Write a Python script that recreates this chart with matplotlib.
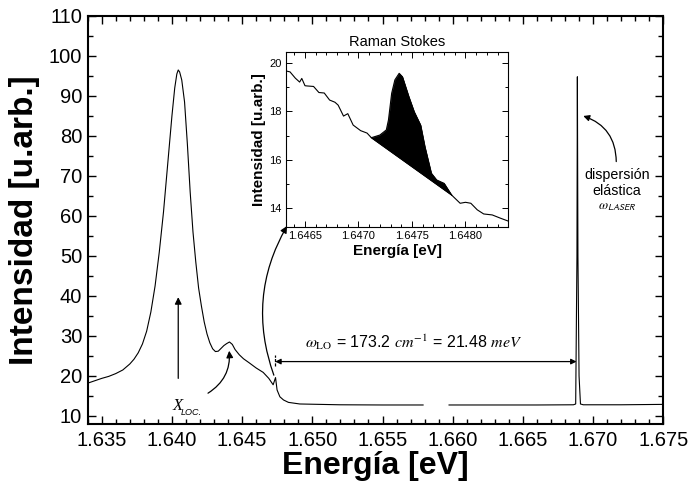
import numpy as np
import matplotlib
matplotlib.use("Agg")
import matplotlib.pyplot as plt
from matplotlib.ticker import MultipleLocator, FormatStrFormatter

plt.rcParams['font.family'] = ['Liberation Sans', 'DejaVu Sans']
plt.rcParams['mathtext.fontset'] = 'stix'

# ---------------- data ----------------
main_e = [1.6340, 1.6345, 1.6350, 1.6355, 1.6360, 1.6365, 1.6370, 1.6373,
          1.6376, 1.6379, 1.6382, 1.6385, 1.6388, 1.6391, 1.6394, 1.6397,
          1.6400, 1.6402, 1.64035, 1.64045, 1.64055, 1.6407, 1.6409, 1.6411,
          1.6413, 1.6415, 1.6417, 1.6419, 1.6421, 1.6423, 1.6425, 1.6427,
          1.6429, 1.6431, 1.6433, 1.6435, 1.6437, 1.6439, 1.6441, 1.6443,
          1.6445, 1.6448, 1.6451, 1.6455, 1.6460, 1.6465, 1.6469, 1.64721,
          1.64738, 1.64749, 1.64769, 1.64795, 1.64830, 1.64911, 1.65196, 1.6550,
          1.65789]
main_i = [18.2, 18.8, 19.4, 19.9, 20.6, 21.5, 23.0, 24.2,
          25.8, 28.0, 31.2, 36.0, 42.5, 51.0, 61.0, 73.0,
          85.0, 92.0, 95.5, 96.5, 96.0, 94.0, 88.5, 78.0,
          66.0, 56.0, 48.5, 42.0, 37.5, 33.5, 30.5, 28.3,
          26.8, 26.1, 26.2, 26.9, 27.6, 28.1, 28.5, 27.9,
          26.6, 25.3, 24.3, 23.3, 22.0, 20.9, 19.4, 17.8,
          19.6, 16.5, 14.8, 14.0, 13.4, 13.0, 12.8, 12.75,
          12.75]
laser_e = [1.65974, 1.6630, 1.6660, 1.6686, 1.66876, 1.66885, 1.66888, 1.66892,
           1.66900, 1.66910, 1.6693, 1.6720, 1.6750]
laser_i = [12.75, 12.75, 12.75, 12.8, 13.0, 50.0, 94.8, 50.0,
           20.0, 13.0, 12.8, 12.8, 12.9]

inset_e = [1.64632, 1.64636, 1.64641, 1.64645, 1.64647, 1.64650, 1.64652, 1.64658,
           1.64663, 1.64668, 1.64673, 1.64678, 1.64681, 1.64686, 1.64690, 1.64695,
           1.64702, 1.64708, 1.64712, 1.64720, 1.64726, 1.64728, 1.64731, 1.64734,
           1.64738, 1.64741, 1.64747, 1.64752, 1.64758, 1.64762, 1.64768, 1.64773,
           1.64780, 1.64787, 1.64795, 1.64800, 1.64805, 1.64811, 1.64817, 1.64825,
           1.64833, 1.64841]
inset_i = [19.66, 19.62, 19.36, 19.2, 19.35, 19.05, 19.04, 19.02,
           18.77, 18.75, 18.46, 18.37, 18.25, 17.8, 17.9, 17.43,
           17.2, 17.1, 16.91, 17.02, 17.23, 17.64, 18.74, 19.29,
           19.56, 19.42, 18.6, 17.98, 17.43, 16.54, 15.45, 15.17,
           15.03, 14.55, 14.21, 14.25, 14.21, 13.94, 13.77, 13.73,
           13.59, 13.46]
fill_base_e = [1.64712, 1.64787]
fill_base_i = [16.91, 14.55]

main_xticks = [1.635, 1.640, 1.645, 1.650, 1.655, 1.660, 1.665, 1.670, 1.675]
main_yticks = [10, 20, 30, 40, 50, 60, 70, 80, 90, 100, 110]
inset_xticks = [1.6465, 1.6470, 1.6475, 1.6480]
inset_yticks = [14, 16, 18, 20]

# ---------------- figure ----------------
fig = plt.figure(figsize=(6.91, 4.93), dpi=100)
ax = fig.add_axes([0.1269, 0.1400, 0.8330, 0.8276])

ax.plot(main_e, main_i, color='black', lw=0.8)
ax.plot(laser_e, laser_i, color='black', lw=0.8)
ax.set_xlim(1.634, 1.675)
ax.set_ylim(8, 110)
ax.set_xticks(main_xticks)
ax.set_yticks(main_yticks)
ax.xaxis.set_major_formatter(FormatStrFormatter('%.3f'))
ax.xaxis.set_minor_locator(MultipleLocator(0.001))
ax.yaxis.set_minor_locator(MultipleLocator(5))
ax.tick_params(which='both', direction='in', top=True, right=True, width=1.0,
               labelsize=14.5)
ax.tick_params(which='major', length=6)
ax.tick_params(which='minor', length=3.5)
ax.tick_params(axis='x', pad=5)
ax.tick_params(axis='y', pad=4)
for s in ax.spines.values():
    s.set_linewidth(1.5)
ax.set_xlabel('Energía [eV]', fontsize=23, fontweight='bold', labelpad=1)
ax.set_ylabel('Intensidad [u.arb.]', fontsize=24, fontweight='bold')
ax.yaxis.set_label_coords(-0.082, 0.5)

# annotations on main axes
ax.annotate('', xy=(1.64045, 39.7), xytext=(1.64045, 19.4),
            arrowprops=dict(arrowstyle='-|>', color='black', lw=0.9,
                            mutation_scale=10, shrinkA=0, shrinkB=0))
ax.text(1.6404, 10.6, 'X', fontsize=12, style='italic', family='Liberation Serif',
        ha='center', va='bottom')
ax.text(1.64062, 9.8, 'LOC.', fontsize=6.5, style='italic', ha='left', va='bottom')
ax.annotate('', xy=(1.64408, 26.3), xytext=(1.64257, 15.7),
            arrowprops=dict(arrowstyle='-|>', color='black', lw=0.9,
                            mutation_scale=10, shrinkA=0, shrinkB=0,
                            connectionstyle='arc3,rad=0.3'))
ax.annotate('', xy=(1.6482, 57.5), xytext=(1.64726, 20.2),
            arrowprops=dict(arrowstyle='-|>', color='black', lw=0.9,
                            mutation_scale=10, shrinkA=0, shrinkB=0,
                            connectionstyle='arc3,rad=-0.23'))
ax.annotate('', xy=(1.64736, 23.6), xytext=(1.66882, 23.6),
            arrowprops=dict(arrowstyle='<|-|>', color='black', lw=0.9,
                            mutation_scale=8, shrinkA=0, shrinkB=0))
ax.plot([1.64733, 1.64733], [22.6, 25.3], color='black', lw=0.9, ls=(0, (2.5, 1)))
ax.text(1.6495, 26.0, r'$\omega_{\rm LO}$ = 173.2 $cm^{-1}$ = 21.48 $meV$',
        fontsize=11.5, ha='left', va='bottom')
ax.annotate('', xy=(1.6693, 85.0), xytext=(1.67165, 73.6),
            arrowprops=dict(arrowstyle='-|>', color='black', lw=0.9,
                            mutation_scale=9, shrinkA=0, shrinkB=0,
                            connectionstyle='arc3,rad=0.35'))
ax.text(1.6717, 72.0, 'dispersión\nelástica', fontsize=10.3, ha='center', va='top',
        linespacing=1.15)
ax.text(1.6717, 63.8, r'$\omega_{\mathsf{LASER}}$', fontsize=9.5, ha='center', va='top')

# ---------------- inset ----------------
ins = fig.add_axes([0.4135, 0.5389, 0.3221, 0.3562])
ins.plot(inset_e, inset_i, color='black', lw=0.8)
seg_e = [e for e in inset_e if fill_base_e[0] <= e <= fill_base_e[1]]
seg_i = [i for e, i in zip(inset_e, inset_i) if fill_base_e[0] <= e <= fill_base_e[1]]
base = np.interp(seg_e, fill_base_e, fill_base_i)
ins.fill_between(seg_e, base, seg_i, color='black', lw=0.5)
ins.plot(fill_base_e, fill_base_i, color='black', lw=0.8)
ins.set_xlim(1.64632, 1.6484)
ins.set_ylim(13.22, 20.45)
ins.set_xticks(inset_xticks)
ins.set_yticks(inset_yticks)
ins.xaxis.set_major_formatter(FormatStrFormatter('%.4f'))
ins.xaxis.set_minor_locator(MultipleLocator(0.0001))
ins.yaxis.set_minor_locator(MultipleLocator(1))
ins.tick_params(which='both', direction='in', top=True, right=True, width=0.7,
                labelsize=8, pad=3)
ins.tick_params(which='major', length=4)
ins.tick_params(which='minor', length=2)
for s in ins.spines.values():
    s.set_linewidth(0.8)
ins.set_title('Raman Stokes', fontsize=10.5, pad=4)
ins.set_xlabel('Energía [eV]', fontsize=11, fontweight='bold', labelpad=2)
ins.set_ylabel('Intensidad [u.arb.]', fontsize=11, fontweight='bold', labelpad=2)

fig.savefig('out.png', dpi=100)
